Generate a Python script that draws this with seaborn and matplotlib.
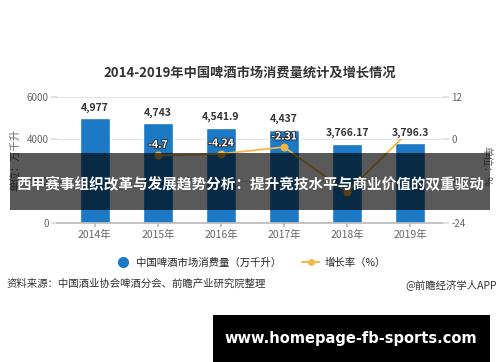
import seaborn as sns
import matplotlib.pyplot as plt
import matplotlib.patheffects as pe
from matplotlib.lines import Line2D
from matplotlib.patches import Rectangle
import pandas as pd
import numpy as np

years = ["2014年", "2015年", "2016年", "2017年", "2018年", "2019年"]
consumption = [4977, 4743, 4541.9, 4437, 3766.17, 3796.3]
consumption_labels = ["4,977", "4,743", "4,541.9", "4,437", "3,766.17", "3,796.3"]
growth = [np.nan, -4.7, -4.24, -2.31, -15.12, 2.5]
growth_labels = ["", "-4.7", "-4.24", "-2.31", "", ""]

if __name__ == '__main__':

 sns.set_theme(style="white")
 plt.rcParams['font.family'] = ['Noto Sans CJK SC', 'DejaVu Sans']
 plt.rcParams['axes.unicode_minus'] = False

 bar_color = "#1b79c6"
 line_color = "#f2b843"
 grey = "#666666"

 df = pd.DataFrame({"year": years, "value": consumption})

 fig = plt.figure(figsize=(5, 3.62), dpi=100)
 ax = fig.add_axes([0.114, 0.384, 0.772, 0.348])
 sns.barplot(data=df, x="year", y="value", color=bar_color, width=0.47,
             saturation=1, ax=ax)
 ax.set_ylim(0, 6000)
 ax.set_yticks([0, 2000, 4000, 6000])
 ax.set_xlim(-0.6, 5.52)
 ax.set_xlabel("")
 ax.set_ylabel("单位：万千升", fontsize=7.5, color=grey)
 ax.yaxis.set_label_coords(-0.095, 0.5)
 ax.grid(axis="y", color="#e3e3e3", linewidth=0.8)
 ax.set_axisbelow(True)
 for s in ["top", "left", "right"]:
     ax.spines[s].set_visible(False)
 ax.spines["bottom"].set_color("#bbbbbb")
 ax.tick_params(axis="y", length=4, color="#dddddd", labelsize=7, labelcolor=grey, pad=2)
 ax.tick_params(axis="x", length=3, color="#bbbbbb", labelsize=7.5, labelcolor=grey, pad=2,
                bottom=True)

 ax2 = ax.twinx()
 sns.lineplot(x=np.arange(len(years)), y=growth, ax=ax2, color=line_color, linewidth=1.3,
              marker="o", markersize=5, markeredgecolor=line_color)
 ax2.set_ylim(-24, 12)
 ax2.set_yticks([-24, -12, 0, 12])
 ax2.set_ylabel("单位：%", fontsize=7.5, color=grey, rotation=-90)
 ax2.yaxis.set_label_coords(1.125, 0.45)
 for s in ["top", "left", "right", "bottom"]:
     ax2.spines[s].set_visible(False)
 ax2.tick_params(axis="y", length=4, color="#dddddd", labelsize=7, labelcolor=grey, pad=2)

 # bar value labels drawn on the top axes so they sit over the line
 for i, (v, lab) in enumerate(zip(consumption, consumption_labels)):
     ax2.annotate(lab, (i, v), xycoords=ax.transData, xytext=(0, 4), textcoords="offset points",
                  ha="center", va="bottom", fontsize=7.5, fontweight="bold", color="#333333",
                  bbox=dict(boxstyle="square,pad=0.1", facecolor="white", edgecolor="none"),
                  zorder=4)

 for i, (g, lab) in enumerate(zip(growth, growth_labels)):
     if lab:
         ax2.annotate(lab, (i, g), xytext=(0, 4), textcoords="offset points",
                      ha="center", va="bottom", fontsize=7.5, fontweight="bold", color="white",
                      path_effects=[pe.withStroke(linewidth=1.5, foreground="#333333")])

 fig.text(0.5, 0.80, "2014-2019年中国啤酒市场消费量统计及增长情况", ha="center", va="center",
          fontsize=9.5, fontweight="bold", color="#333333")

 handles = [
     Line2D([], [], linestyle="none", marker="o", markersize=7, color=bar_color),
     Line2D([], [], color=line_color, marker="o", markersize=4, linewidth=1.5),
 ]
 fig.legend(handles, ["中国啤酒市场消费量（万千升）", "增长率（%）"], loc="center",
            bbox_to_anchor=(0.5, 0.275), ncol=2, frameon=False, fontsize=7.5,
            handlelength=1.6, columnspacing=2.0, handletextpad=0.5)

 fig.text(0.014, 0.215, "资料来源：中国酒业协会啤酒分会、前瞻产业研究院整理", ha="left", va="center",
          fontsize=7.5, color="#333333")
 fig.text(0.994, 0.215, "@前瞻经济学人APP", ha="right", va="center",
          fontsize=7.5, color="#333333")

 # overlay banner
 fig.patches.append(Rectangle((0.02, 1 - 210 / 362), 0.96, 57 / 362, transform=fig.transFigure,
                              facecolor="black", alpha=0.65, edgecolor="none", zorder=5))
 fig.text(0.5, 1 - 183 / 362, "西甲赛事组织改革与发展趋势分析：提升竞技水平与商业价值的双重驱动",
          ha="center", va="center", fontsize=10.5, fontweight="bold", color="white", zorder=6)

 fig.patches.append(Rectangle((213 / 500, 0), 277 / 500, 47 / 362, transform=fig.transFigure,
                              facecolor="black", edgecolor="none", zorder=5))
 fig.text(351 / 500, 1 - 338 / 362, "www.homepage-fb-sports.com", ha="center", va="center",
          fontsize=10.5, fontweight="bold", color="white", family=["DejaVu Sans"], zorder=6)

 fig.savefig("out.png", dpi=100, facecolor="white")
